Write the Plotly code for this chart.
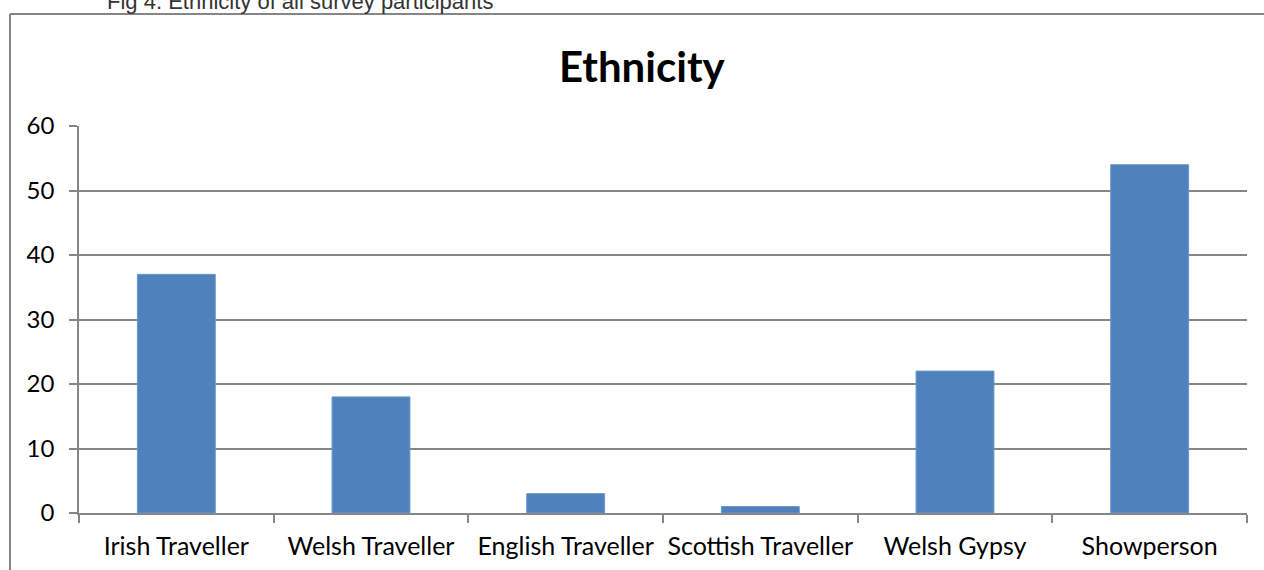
import plotly.graph_objects as go

categories = ["Irish Traveller", "Welsh Traveller", "English Traveller",
              "Scottish Traveller", "Welsh Gypsy", "Showperson"]
values = [37, 18, 3, 1, 22, 54]
y_ticks = [0, 10, 20, 30, 40, 50, 60]

W, H = 1264, 570
L, R, T, B = 79, 17, 126, 57
pw, ph = W - L - R, H - T - B

def px_x(x):
    return (x - L) / pw

def px_y(y):
    return (H - B - y) / ph

grey = "#868686"

fig = go.Figure(go.Bar(
    x=categories, y=values,
    marker=dict(color="#4F81BD", line=dict(color="#6A96CC", width=1)),
))

fig.update_layout(
    width=W, height=H,
    margin=dict(l=L, r=R, t=T, b=B, pad=0, autoexpand=False),
    paper_bgcolor="white", plot_bgcolor="white",
    bargap=0.6,
    showlegend=False,
    font=dict(family="Lato", size=25, color="black"),
)
fig.update_xaxes(
    type="category", showline=True, linecolor=grey, linewidth=1.5,
    ticks="outside", tickson="boundaries", ticklen=8, tickcolor=grey, tickwidth=1.5,
    showgrid=False, ticklabelstandoff=10, tickangle=0, automargin=False,
    tickfont=dict(family="Lato", size=25, color="black"),
)
fig.update_yaxes(
    range=[0, 60], tickvals=y_ticks, showline=True, linecolor=grey, linewidth=1.5,
    ticks="outside", ticklen=8, tickcolor=grey, tickwidth=1.5,
    showgrid=True, gridcolor=grey, gridwidth=1.5, zeroline=False,
    ticklabelstandoff=10, automargin=False,
    tickfont=dict(family="Lato", size=24, color="black"),
)

fig.add_annotation(
    text="<b>Ethnicity</b>", xref="paper", yref="paper",
    x=px_x(642), y=px_y(66), xanchor="center", yanchor="middle",
    showarrow=False, font=dict(family="Lato", size=42, color="black"),
)
fig.add_annotation(
    text="Fig 4. Ethnicity of all survey participants", xref="paper", yref="paper",
    x=px_x(105), y=px_y(16), xanchor="left", yanchor="bottom",
    showarrow=False, font=dict(family="Liberation Sans", size=22, color="#333333"),
)

# outer chart border (left and top edges visible)
fig.add_shape(type="line", xref="paper", yref="paper",
              x0=px_x(10), x1=px_x(10), y0=px_y(14), y1=px_y(575),
              line=dict(color=grey, width=2))
fig.add_shape(type="line", xref="paper", yref="paper",
              x0=px_x(10), x1=px_x(1270), y0=px_y(14), y1=px_y(14),
              line=dict(color=grey, width=2))

fig.write_html("out.html")
